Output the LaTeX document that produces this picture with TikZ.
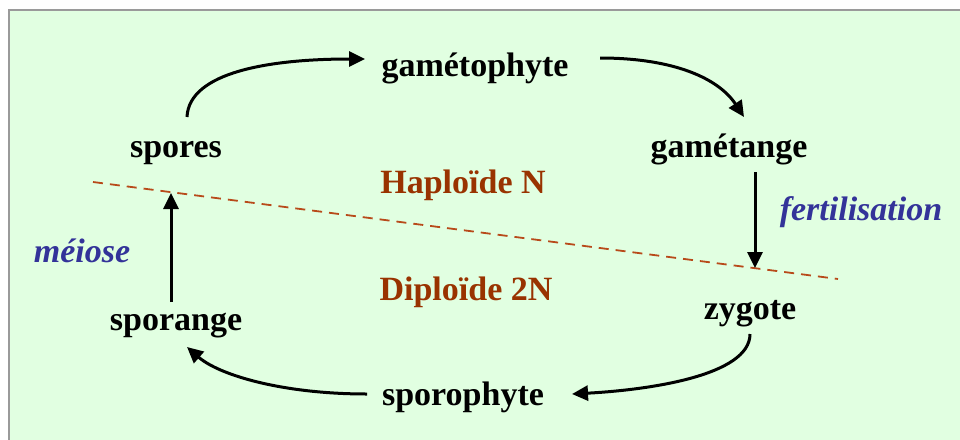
\documentclass[tikz,border=0pt]{standalone}
\usepackage{fontspec}
\setmainfont{Liberation Serif}
\usetikzlibrary{arrows.meta}
\definecolor{bgg}{HTML}{E1FFE1}
\definecolor{frameg}{HTML}{9A9A9A}
\definecolor{brn}{HTML}{993300}
\definecolor{dashbrn}{HTML}{B84A1A}
\definecolor{blu}{HTML}{333399}
\begin{document}
\begin{tikzpicture}[x=1pt,y=-1pt,
  lbl/.style={anchor=base,inner sep=0pt,font=\fontsize{34}{40}\selectfont\bfseries},
  phase/.style={lbl,text=brn},
  proc/.style={lbl,text=blu,font=\fontsize{34}{40}\selectfont\bfseries\itshape},
  cyc/.style={line width=3pt,-{Triangle[length=16pt,width=15pt]}},
  sep/.style={dashbrn,line width=1.8pt,dash pattern=on 10pt off 7pt}]
\useasboundingbox (0,0) rectangle (960,439);
\fill[white] (0,0) rectangle (960,439);
\draw[frameg,line width=2pt,fill=bgg] (9,10) rectangle (975,460);
% nodes
\node[lbl] (gph) at (475,76) {gamétophyte};
\node[lbl] (spo) at (176,157) {spores};
\node[lbl] (gta) at (729,157) {gamétange};
\node[phase] (hap) at (463,193) {Haploïde N};
\node[proc] (fer) at (861,220) {fertilisation};
\node[proc] (mei) at (82,262) {méiose};
\node[phase] (dip) at (466,300) {Diploïde 2N};
\node[lbl] (zyg) at (750,319) {zygote};
\node[lbl] (spg) at (176,330) {sporange};
\node[lbl] (sph) at (463,405) {sporophyte};
% separator
\coordinate (sepA) at (93,182);
\coordinate (sepB) at (838,279);
\draw[sep] (sepA) -- (sepB);
% cycle arrows
\draw[cyc] ([shift={(11,-40)}]spo.base) .. controls +(2,-45) and +(-95,0) .. ([shift={(-110,-17)}]gph.base);
\draw[cyc] ([shift={(125,-18)}]gph.base) .. controls +(75,0) and +(-25,-38) .. ([shift={(15,-40)}]gta.base);
\draw[cyc] ([shift={(26,15)}]gta.base) -- ([shift={(5,-51)}]zyg.base);
\draw[cyc] ([shift={(0,15)}]zyg.base) .. controls +(0,42) and +(75,-4) .. ([shift={(109,-11)}]sph.base);
\draw[cyc] ([shift={(-96,-11)}]sph.base) .. controls +(-85,0) and +(32,28) .. ([shift={(11,17)}]spg.base);
\draw[cyc] ([shift={(-5,-28)}]spg.base) -- ([shift={(-5,36)}]spo.base);
\end{tikzpicture}
\end{document}
